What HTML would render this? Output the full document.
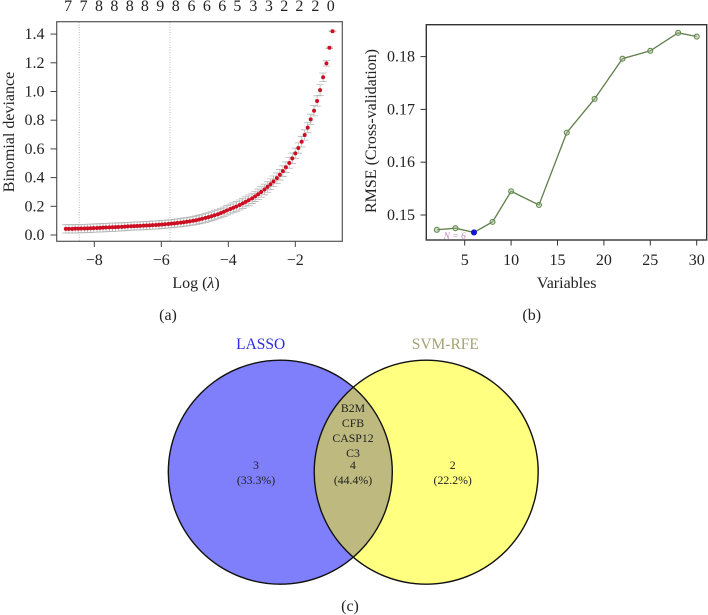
<!DOCTYPE html>
<html lang="en">
<head>
<meta charset="utf-8">
<title>LASSO and SVM-RFE feature selection</title>
<style>
html,body{margin:0;padding:0;background:#fff;}
svg{display:block;}
text{font-family:"Liberation Serif",serif;fill:#222;}
.tick{font-size:16px;}
.title{font-size:16px;}
.venn{font-size:11.8px;}
</style>
</head>
<body>
<svg id="figure" xmlns="http://www.w3.org/2000/svg" width="708" height="615" viewBox="0 0 708 615">
  <rect width="708" height="615" fill="#ffffff"/>

  <g id="panel-a">
    <text class="title" transform="translate(14,132) rotate(-90)" text-anchor="middle">Binomial deviance</text>
    <text class="title" x="196" y="288" text-anchor="middle">Log (<tspan font-style="italic">λ</tspan>)</text>
    <text class="title" x="168" y="320" text-anchor="middle">(a)</text>
  </g>

  <g id="panel-b">
    <text class="title" transform="translate(376,131) rotate(-90)" text-anchor="middle">RMSE (Cross-validation)</text>
    <text class="title" x="566.7" y="288" text-anchor="middle">Variables</text>
    <text class="title" x="531.7" y="320" text-anchor="middle">(b)</text>
    <text x="454.7" y="239" text-anchor="middle" font-size="9.5" font-style="italic" style="fill:#c586b6"><tspan font-style="italic">N</tspan> = 6</text>
  </g>

  <g id="panel-c">
    <defs>
      <clipPath id="clip-left"><circle cx="280.3" cy="472.2" r="112"/></clipPath>
    </defs>
    <circle cx="280.3" cy="472.2" r="112" fill="#7f7ffb"/>
    <circle cx="426.2" cy="472.2" r="112" fill="#ffff80"/>
    <circle cx="426.2" cy="472.2" r="112" fill="#bdb97f" clip-path="url(#clip-left)"/>
    <circle cx="280.3" cy="472.2" r="112" fill="none" stroke="#111" stroke-width="1.4"/>
    <circle cx="426.2" cy="472.2" r="112" fill="none" stroke="#111" stroke-width="1.4"/>
    <text x="260.7" y="349" text-anchor="middle" font-size="15.5" style="fill:#2a2ae6">LASSO</text>
    <text x="445.3" y="349" text-anchor="middle" font-size="15.5" style="fill:#a3a372">SVM-RFE</text>
    <text class="venn" x="353" y="412">B2M</text>
    <text class="venn" x="353" y="427">CFB</text>
    <text class="venn" x="353" y="442">CASP12</text>
    <text class="venn" x="353" y="457">C3</text>
    <text class="venn" x="353" y="469">4</text>
    <text class="venn" x="353" y="484">(44.4%)</text>
    <text class="venn" x="256" y="469">3</text>
    <text class="venn" x="256" y="484">(33.3%)</text>
    <text class="venn" x="452.7" y="469">2</text>
    <text class="venn" x="452.7" y="484">(22.2%)</text>
    <text class="title" x="350" y="611" text-anchor="middle">(c)</text>
  </g>
</svg>

<script>
// Panel (a) data
var logLambda = [-8.85,-8.76,-8.66,-8.57,-8.48,-8.39,-8.29,-8.20,-8.11,-8.02,-7.92,-7.83,-7.74,-7.65,-7.55,-7.46,-7.37,-7.28,-7.18,-7.09,-7.00,-6.90,-6.81,-6.72,-6.63,-6.53,-6.44,-6.35,-6.26,-6.16,-6.07,-5.98,-5.89,-5.79,-5.70,-5.61,-5.52,-5.42,-5.33,-5.24,-5.15,-5.05,-4.96,-4.87,-4.78,-4.68,-4.59,-4.50,-4.41,-4.31,-4.22,-4.13,-4.04,-3.94,-3.85,-3.76,-3.66,-3.57,-3.48,-3.39,-3.29,-3.20,-3.11,-3.02,-2.92,-2.83,-2.74,-2.65,-2.55,-2.46,-2.37,-2.28,-2.18,-2.09,-2.00,-1.91,-1.81,-1.72,-1.63,-1.54,-1.44,-1.35,-1.26,-1.17,-1.07,-0.98,-0.89];
var deviance = [0.043,0.043,0.043,0.044,0.044,0.045,0.045,0.046,0.047,0.048,0.049,0.050,0.051,0.052,0.053,0.054,0.055,0.056,0.057,0.058,0.060,0.061,0.062,0.063,0.064,0.065,0.066,0.067,0.069,0.070,0.071,0.073,0.075,0.077,0.079,0.081,0.084,0.086,0.089,0.092,0.095,0.099,0.103,0.108,0.113,0.119,0.125,0.131,0.138,0.145,0.153,0.162,0.172,0.181,0.190,0.199,0.209,0.220,0.231,0.243,0.255,0.269,0.284,0.300,0.317,0.335,0.354,0.374,0.396,0.420,0.445,0.472,0.502,0.534,0.569,0.606,0.650,0.697,0.748,0.806,0.866,0.934,1.010,1.099,1.196,1.305,1.420];
var devianceSE = [0.029,0.029,0.029,0.029,0.029,0.029,0.029,0.029,0.029,0.029,0.029,0.029,0.029,0.029,0.029,0.029,0.029,0.029,0.028,0.028,0.028,0.028,0.028,0.028,0.028,0.028,0.028,0.028,0.028,0.028,0.028,0.028,0.028,0.028,0.028,0.028,0.028,0.029,0.029,0.029,0.029,0.029,0.030,0.030,0.030,0.031,0.031,0.031,0.032,0.032,0.033,0.033,0.033,0.034,0.034,0.034,0.035,0.035,0.035,0.036,0.036,0.036,0.036,0.037,0.037,0.037,0.037,0.037,0.037,0.037,0.037,0.037,0.037,0.037,0.036,0.036,0.036,0.036,0.036,0.036,0.036,0.036,0.037,0.030,0.019,0.005,0.002];
var selectedLambda = [-8.45,-5.74];
var featureCounts = ["7","7","8","8","8","8","9","8","6","6","6","5","3","3","2","2","2","0"];
var featureCountAt = [-8.78,-8.32,-7.86,-7.40,-6.94,-6.49,-6.03,-5.57,-5.10,-4.64,-4.18,-3.73,-3.25,-2.79,-2.33,-1.88,-1.40,-0.94];
var xTicksA = [-8,-6,-4,-2];
var yTicksA = ["0.0","0.2","0.4","0.6","0.8","1.0","1.2","1.4"];

// Panel (b) data
var variableCounts = [2,4,6,8,10,13,16,19,22,25,28,30];
var rmseValues = [0.1472,0.1475,0.1467,0.1487,0.1545,0.1519,0.1656,0.1720,0.1796,0.1811,0.1845,0.1838];
var bestVariableCount = 6;
var xTicksB = [5,10,15,20,25,30];
var yTicksB = ["0.15","0.16","0.17","0.18"];

var NS = 'http://www.w3.org/2000/svg';
function mk(parent, tag, attrs, txt) {
  var el = document.createElementNS(NS, tag);
  for (var k in attrs) el.setAttribute(k, attrs[k]);
  if (txt !== undefined) el.textContent = txt;
  parent.appendChild(el);
  return el;
}
function xA(v) { return 295.3 + (v + 2) * 33.5; }
function yA(v) { return 235 - v * 143.5; }
function xB(v) { return 464.7 + (v - 5) * 9.28; }
function yB(v) { return 215 - (v - 0.15) * 5280; }

var a = document.getElementById('panel-a');
var b = document.getElementById('panel-b');
var el, i;

// ---- Panel a ----
for (i = 0; i < selectedLambda.length; i++) {
  el = mk(a, 'line', {x1: xA(selectedLambda[i]), x2: xA(selectedLambda[i]), y1: 22, y2: 241, stroke: '#b5b5b5', 'stroke-width': 0.9, 'stroke-dasharray': '1 1.5'});
  
  
}
for (i = 0; i < logLambda.length; i++) {
  var cx = xA(logLambda[i]);
  var hi = yA(deviance[i] + devianceSE[i]);
  var lo = yA(deviance[i] - devianceSE[i]);
  var d = 'M' + cx + ' ' + hi + 'V' + lo + 'M' + (cx - 3.8) + ' ' + hi + 'H' + (cx + 3.8) + 'M' + (cx - 3.8) + ' ' + lo + 'H' + (cx + 3.8);
  el = mk(a, 'path', {d: d, fill: 'none', stroke: '#b4b8b6', 'stroke-width': 0.8});
  
  
}
for (i = 0; i < logLambda.length; i++) {
  el = mk(a, 'circle', {cx: xA(logLambda[i]), cy: yA(deviance[i]), r: 2, fill: '#cc1024'});
  
  
}
el = mk(a, 'rect', {x: 56.7, y: 21.7, width: 285.6, height: 219.6, fill: 'none', stroke: '#555', 'stroke-width': 1.2});


for (i = 0; i < xTicksA.length; i++) {
  el = mk(a, 'line', {x1: xA(xTicksA[i]), x2: xA(xTicksA[i]), y1: 241.3, y2: 247, stroke: '#444', 'stroke-width': 1});
  
  
  el = mk(a, 'text', {x: xA(xTicksA[i]), y: 265, 'text-anchor': 'middle', 'class': 'tick'}, '\u2212' + Math.abs(xTicksA[i]));
  
  
}
for (i = 0; i < yTicksA.length; i++) {
  var ty = yA(parseFloat(yTicksA[i]));
  el = mk(a, 'line', {x1: 50.5, x2: 56.7, y1: ty, y2: ty, stroke: '#444', 'stroke-width': 1});
  
  
  el = mk(a, 'text', {x: 44.5, y: ty + 5, 'text-anchor': 'end', 'class': 'tick'}, yTicksA[i]);
  
  
}
for (i = 0; i < featureCounts.length; i++) {
  el = mk(a, 'text', {x: xA(featureCountAt[i]), y: 11, 'text-anchor': 'middle', 'class': 'tick'}, featureCounts[i]);
  
  
}

// ---- Panel b ----
var pts = [];
for (i = 0; i < variableCounts.length; i++) pts.push(xB(variableCounts[i]) + ',' + yB(rmseValues[i]));
el = mk(b, 'polyline', {points: pts.join(' '), fill: 'none', stroke: '#5f7f4c', 'stroke-width': 1.3});


for (i = 0; i < variableCounts.length; i++) {
  var best = variableCounts[i] === bestVariableCount;
  el = mk(b, 'circle', {cx: xB(variableCounts[i]), cy: yB(rmseValues[i]), r: 2.5, fill: best ? '#1414d8' : '#a9bf98', 'fill-opacity': best ? 1 : 0.45, stroke: best ? '#1414d8' : '#648a50', 'stroke-width': 1.1});
  
  
}
el = mk(b, 'rect', {x: 426.3, y: 24.7, width: 280.4, height: 215.3, fill: 'none', stroke: '#333', 'stroke-width': 1.4});


for (i = 0; i < xTicksB.length; i++) {
  el = mk(b, 'line', {x1: xB(xTicksB[i]), x2: xB(xTicksB[i]), y1: 240, y2: 245.5, stroke: '#333', 'stroke-width': 1});
  
  
  el = mk(b, 'text', {x: xB(xTicksB[i]), y: 265, 'text-anchor': 'middle', 'class': 'tick'}, String(xTicksB[i]));
  
  
}
for (i = 0; i < yTicksB.length; i++) {
  var tyb = yB(parseFloat(yTicksB[i]));
  el = mk(b, 'line', {x1: 420.5, x2: 426.3, y1: tyb, y2: tyb, stroke: '#333', 'stroke-width': 1});
  
  
  el = mk(b, 'text', {x: 415, y: tyb + 5, 'text-anchor': 'end', 'class': 'tick'}, yTicksB[i]);
  
  
}

// Venn text is centred
var vennTexts = document.querySelectorAll('.venn');
for (i = 0; i < vennTexts.length; i++) vennTexts[i].setAttribute('text-anchor', 'middle');
</script>
</body>
</html>
